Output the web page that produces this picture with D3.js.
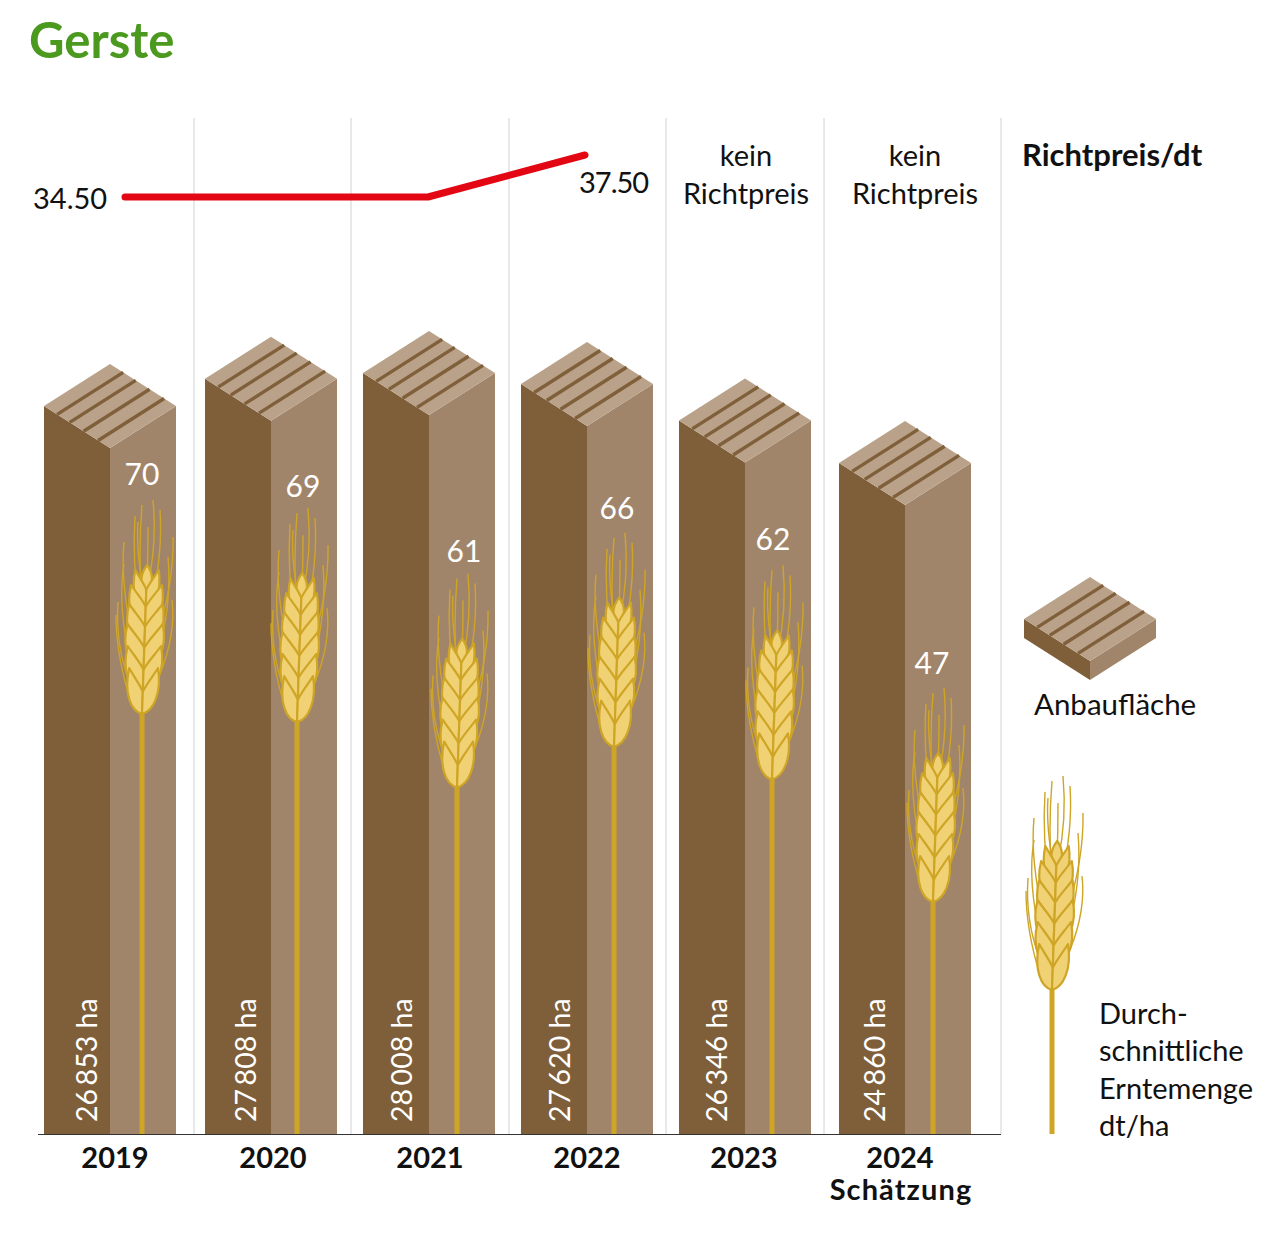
<!DOCTYPE html>
<html>
<head>
<meta charset="utf-8">
<script src="https://cdn.jsdelivr.net/npm/d3@7"></script>
<style>
    html, body { margin: 0; padding: 0; background: #fff; }
    svg { display: block; }
    text { font-family: Lato, "Noto Sans", sans-serif; fill: #111; }
</style>
</head>
<body>
<svg id="chart" width="1280" height="1236"></svg>
<script>
// Data
const years = ["2019", "2020", "2021", "2022", "2023", "2024"];
const areaHa = [26853, 27808, 28008, 27620, 26346, 24860];
const yieldDt = [70, 69, 61, 66, 62, 47];
const priceYears = ["2019", "2020", "2021", "2022"];
const prices = [34.5, 34.5, 34.5, 37.5];
const noPriceYears = ["2023", "2024"];
const legendYield = ["Durch-", "schnittliche", "Erntemenge", "dt/ha"];

const colors = {
    left: "#7f5f3a",
    right: "#a1856a",
    top: "#b9a289",
    stripe: "#80603a",
    stem: "#cfa526",
    kernel: "#f0d275",
    red: "#e30613",
    grid: "#d2d2d2",
    title: "#4b9a1f"
};

const svg = d3.select("#chart");
const baseY = 1134;

// Scales. The original is hand placed so the columns are not evenly spaced
const barX = d3.scaleOrdinal().domain(years).range([44, 205, 363, 521, 679, 839]);
const stemX = d3.scaleOrdinal().domain(years).range([142, 297, 457, 614, 772, 933]);
const yearX = d3.scaleOrdinal().domain(years).range([115, 273, 430, 587, 744, 900]);
const priceX = d3.scaleOrdinal().domain(priceYears).range([125, 276, 428, 585]);
const noPriceX = d3.scaleOrdinal().domain(noPriceYears).range([746, 915]);
const labelX = d3.scaleOrdinal().domain(years).range([142, 303, 464, 617, 773, 932]);
const labelY = d3.scaleOrdinal().domain(years).range([485, 497, 562, 519, 550, 674]);
const haX = d3.scaleOrdinal().domain(years).range([97, 256, 412, 570, 727, 885]);
const areaY = d3.scaleLinear().domain([24860, 28008]).range([463, 373]);
const yieldY = d3.scaleLinear().domain([47, 70]).range([902, 714]);
const priceY = d3.scaleLinear().domain([34.5, 37.5]).range([197, 155]);

const haFormat = d3.formatLocale({ decimal: ".", thousands: "\u2009", grouping: [3], currency: ["", ""] }).format(",d");

function poly(sel, points, fill) {
    sel.append("polygon").attr("points", points.map(p => p.join(",")).join(" ")).attr("fill", fill);
}

// Isometric block, x and y are the left corner of the top face
function drawBlock(sel, x, y, bottomSide, bottomMid) {
    const w = 66, d = 42;
    poly(sel, [[x, y], [x + w, y + d], [x + w, bottomMid], [x, bottomSide]], colors.left);
    poly(sel, [[x + w, y + d], [x + 2 * w, y], [x + 2 * w, bottomSide], [x + w, bottomMid]], colors.right);
    poly(sel, [[x, y], [x + w, y - d], [x + 2 * w, y], [x + w, y + d]], colors.top);
    [0.2, 0.39, 0.6, 0.82].forEach(t => {
        sel.append("line")
            .attr("x1", x + w * t).attr("y1", y + d * t)
            .attr("x2", x + w * t + w).attr("y2", y + d * t - d)
            .attr("stroke", colors.stripe).attr("stroke-width", 3.4);
    });
}

// Awns of the ear, relative to the ear base
const awns = [
    [0, -110, -4, -160, 0, -209],
    [6, -130, 15, -170, 11, -214],
    [5, -130, 6, -160, 6, -187],
    [1, -125, -6, -165, -4, -192],
    [9, -110, 21, -160, 18, -204],
    [-2, -100, -10, -150, -7, -198],
    [14, -75, 32, -130, 31, -177],
    [16, -60, 30, -110, 26, -157],
    [18, -40, 34, -80, 30, -114],
    [-8, -70, -22, -130, -18, -172],
    [-11, -50, -25, -110, -18, -150],
    [-12, -30, -27, -70, -24, -112],
    [-12, -15, -26, -60, -26, -99]
];
const kernelRows = [
    { y: 0, w: 16, h: 46 },
    { y: -22, w: 18.5, h: 46 },
    { y: -44, w: 19.5, h: 46 },
    { y: -66, w: 18.5, h: 44 },
    { y: -87, w: 17, h: 42 },
    { y: -106, w: 13, h: 38 }
];

function drawWheat(sel, x, earBase, stemBottom) {
    sel.append("line")
        .attr("x1", x).attr("x2", x).attr("y1", earBase - 5).attr("y2", stemBottom)
        .attr("stroke", colors.stem).attr("stroke-width", 5);

    sel.append("g")
        .attr("transform", "translate(" + x + "," + earBase + ")")
        .selectAll("path").data(awns).enter().append("path")
        .attr("d", a => "M" + a[0] + "," + a[1] + "Q" + a[2] + "," + a[3] + " " + a[4] + "," + a[5])
        .attr("fill", "none").attr("stroke", colors.stem).attr("stroke-width", 1.4);

    const ear = sel.append("g")
        .attr("transform", "translate(" + x + "," + earBase + ") skewX(-2)")
        .attr("stroke-linejoin", "round");

    // top kernel first, lower rows lie over it
    ear.append("path")
        .attr("d", "M0,-122C-8,-130 -6,-141 0,-149C6,-141 8,-130 0,-122Z")
        .attr("fill", colors.kernel).attr("stroke", colors.stem).attr("stroke-width", 2.2);

    kernelRows.slice().reverse().forEach(r => {
        [-1, 1].forEach(s => {
            ear.append("path")
                .attr("d", "M0," + r.y
                    + "C" + (s * r.w * 0.7) + "," + (r.y - 3) + " " + (s * r.w * 1.2) + "," + (r.y - r.h * 0.45) + " " + (s * r.w * 0.9) + "," + (r.y - r.h)
                    + "C" + (s * r.w * 0.6) + "," + (r.y - r.h * 0.82) + " " + (s * r.w * 0.15) + "," + (r.y - r.h * 0.62) + " 0," + (r.y - r.h * 0.48) + "Z")
                .attr("fill", colors.kernel).attr("stroke", colors.stem).attr("stroke-width", 2.2);
        });
    });
}

function label(x, y, txt, size, opts) {
    const o = opts || {};
    return svg.append("text")
        .attr("x", x).attr("y", y)
        .attr("font-size", size)
        .attr("font-weight", o.weight || 400)
        .attr("text-anchor", o.anchor || "start")
        .attr("letter-spacing", o.spacing || 0)
        .style("fill", o.fill || "#111")
        .text(txt);
}

// Title
label(29, 58, "Gerste", 49, { weight: 700, fill: colors.title });

// Column separators
const gridX = [194, 351, 509, 666, 824, 1001];
svg.selectAll("line.grid").data(gridX).enter().append("line")
    .attr("class", "grid")
    .attr("x1", d => d).attr("x2", d => d).attr("y1", 118).attr("y2", baseY)
    .attr("stroke", colors.grid).attr("stroke-width", 1);

// Columns
years.forEach((year, i) => {
    const g = svg.append("g");
    const x = barX(year);
    drawBlock(g, x, areaY(areaHa[i]), baseY, baseY);
    drawWheat(g, stemX(year), yieldY(yieldDt[i]), baseY);
    label(labelX(year), labelY(year), yieldDt[i], 30, { anchor: "middle", fill: "#fff" });
    g.append("text")
        .attr("transform", "translate(" + haX(year) + ",1122) rotate(-90)")
        .attr("font-size", 28.5)
        .style("fill", "#fff")
        .text(haFormat(areaHa[i]) + " ha");
    label(yearX(year), 1168, year, 29, { anchor: "middle", weight: 700 });
});
label(901, 1200, "Schätzung", 29, { anchor: "middle", weight: 700, spacing: 1.1 });

// Baseline
svg.append("line").attr("x1", 38).attr("x2", 1001).attr("y1", baseY + 0.5).attr("y2", baseY + 0.5)
    .attr("stroke", "#333").attr("stroke-width", 1.2);

// Price line
const priceLine = d3.line().x((d, i) => priceX(priceYears[i])).y(d => priceY(d));
svg.append("path")
    .attr("d", priceLine(prices))
    .attr("fill", "none").attr("stroke", colors.red).attr("stroke-width", 7)
    .attr("stroke-linecap", "round").attr("stroke-linejoin", "round");
label(33, 209, d3.format(".2f")(prices[0]), 29);
label(579, 193, d3.format(".2f")(prices[3]), 29, { spacing: -1 });

noPriceYears.forEach(year => {
    label(noPriceX(year), 166, "kein", 29, { anchor: "middle" });
    label(noPriceX(year), 204, "Richtpreis", 29, { anchor: "middle" });
});
label(1022, 166, "Richtpreis/dt", 31, { weight: 700 });

// Legend
drawBlock(svg.append("g"), 1024, 619, 638, 680);
label(1034, 715, "Anbaufläche", 29.5);

drawWheat(svg.append("g"), 1052, 990, baseY);
legendYield.forEach((line, i) => label(1099, 1024 + i * 37.3, line, 29));
</script>
</body>
</html>
